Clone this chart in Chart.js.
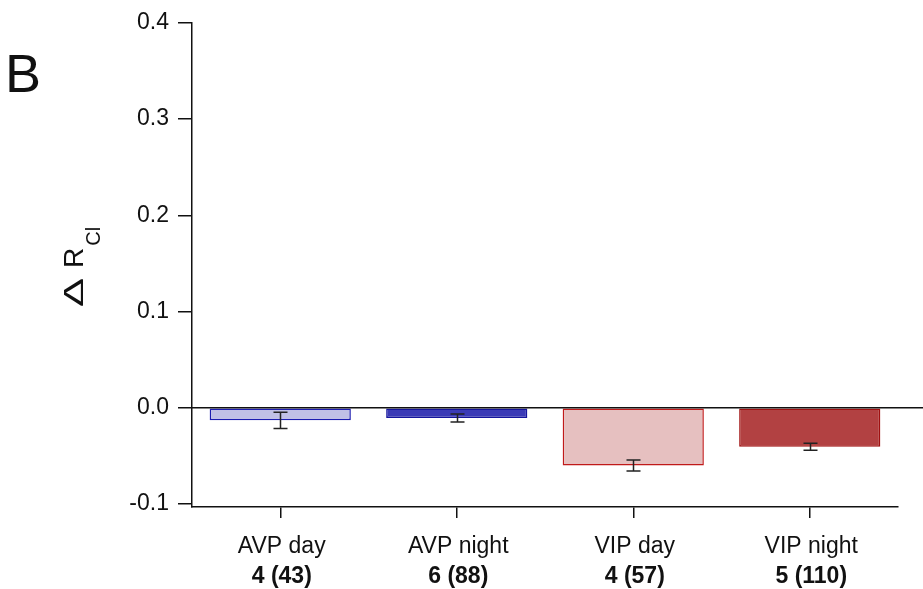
<!DOCTYPE html>
<html>
<head>
<meta charset="utf-8">
<script src="https://cdn.jsdelivr.net/npm/chart.js@4.4.0/dist/chart.umd.min.js"></script>
<style>
  html, body { margin: 0; padding: 0; background: #fff; }
  #wrap { width: 923px; height: 589px; position: relative; }
</style>
</head>
<body>
<div id="wrap"><canvas id="myChart"></canvas></div>
<script>
const categories = ['AVP day', 'AVP night', 'VIP day', 'VIP night'];
const counts = ['4 (43)', '6 (88)', '4 (57)', '5 (110)'];
const means = [-0.0130, -0.0105, -0.0600, -0.0405];
const sems = [0.0085, 0.0042, 0.0057, 0.0036];
const yTicks = [-0.1, 0, 0.1, 0.2, 0.3, 0.4];

const fillColors = ['#c0c0e6', '#3a3ab6', '#e6c0c0', '#b24142'];
const edgeColors = ['#1c1cb0', '#14149c', '#c01a1a', '#a01010'];

const FONT = 'Liberation Sans, Arial, sans-serif';

// error bars, zero line, bold n-labels, y title and panel letter
const extras = {
  id: 'extras',
  afterDatasetsDraw(chart) {
    const ctx = chart.ctx;
    const x = chart.scales.x, y = chart.scales.y;
    const area = chart.chartArea;
    ctx.save();

    // zero line runs out to the right edge
    const y0 = y.getPixelForValue(0);
    ctx.strokeStyle = '#111';
    ctx.lineWidth = 1.5;
    ctx.beginPath();
    ctx.moveTo(area.left, y0);
    ctx.lineTo(chart.width, y0);
    ctx.stroke();

    // error bars
    ctx.strokeStyle = '#222';
    ctx.lineWidth = 1.5;
    means.forEach((m, i) => {
      const cx = Math.round(x.getPixelForValue(i)) + 0.5;
      const top = y.getPixelForValue(m + sems[i]);
      const bot = y.getPixelForValue(m - sems[i]);
      ctx.beginPath();
      ctx.moveTo(cx, top); ctx.lineTo(cx, bot);
      ctx.moveTo(cx - 7, top); ctx.lineTo(cx + 7, top);
      ctx.moveTo(cx - 7, bot); ctx.lineTo(cx + 7, bot);
      ctx.stroke();
    });

    // category labels
    ctx.fillStyle = '#111';
    ctx.textAlign = 'center';
    ctx.textBaseline = 'alphabetic';
    categories.forEach((c, i) => {
      const cx = x.getPixelForValue(i) + 1.5;
      ctx.font = '23px ' + FONT;
      ctx.fillText(c, cx, 553);
      ctx.font = 'bold 23px ' + FONT;
      ctx.fillText(counts[i], cx, 583);
    });

    // y title: delta R with subscript Cl
    ctx.save();
    ctx.translate(83, 307);
    ctx.rotate(-Math.PI / 2);
    ctx.textAlign = 'left';
    ctx.font = '28px ' + FONT;
    ctx.save();
    ctx.scale(1.55, 1);
    ctx.fillText('\u0394', 0, 0);
    ctx.restore();
    ctx.fillText('R', 39, 0);
    const w = ctx.measureText('R').width;
    ctx.font = '20px ' + FONT;
    ctx.fillText('Cl', 39 + w + 2, 17);
    ctx.restore();

    // panel letter
    ctx.font = '54px ' + FONT;
    ctx.textAlign = 'left';
    ctx.fillText('B', 5, 92);
    ctx.restore();
  }
};

new Chart(document.getElementById('myChart'), {
  type: 'bar',
  data: {
    labels: categories,
    datasets: [{
      data: means,
      backgroundColor: fillColors,
      borderColor: edgeColors,
      borderWidth: 1.5,
      borderSkipped: false,
      categoryPercentage: 1.0,
      barPercentage: 0.8
    }]
  },
  options: {
    responsive: true,
    maintainAspectRatio: false,
    animation: false,
    events: [],
    layout: { padding: { top: 22, right: 25, left: 0, bottom: 0 } },
    plugins: { legend: { display: false }, tooltip: { enabled: false } },
    scales: {
      x: {
        grid: { display: true, drawOnChartArea: false, offset: false, tickLength: 11, color: '#111', lineWidth: 1.5 },
        border: { display: true, color: '#111', width: 1.5 },
        ticks: { display: false },
        afterFit(scale) { scale.height = 82; }
      },
      y: {
        min: -0.103,
        max: 0.4,
        afterBuildTicks(scale) { scale.ticks = yTicks.map(v => ({ value: v })); },
        grid: { display: true, drawOnChartArea: false, tickLength: 14, color: '#111', lineWidth: 1.5 },
        border: { display: true, color: '#111', width: 1.5 },
        ticks: {
          color: '#111',
          padding: 9,
          font: { family: FONT, size: 23 },
          callback: v => v.toFixed(1)
        },
        afterFit(scale) { scale.width = 192; }
      }
    }
  },
  plugins: [extras]
});
</script>
</body>
</html>
